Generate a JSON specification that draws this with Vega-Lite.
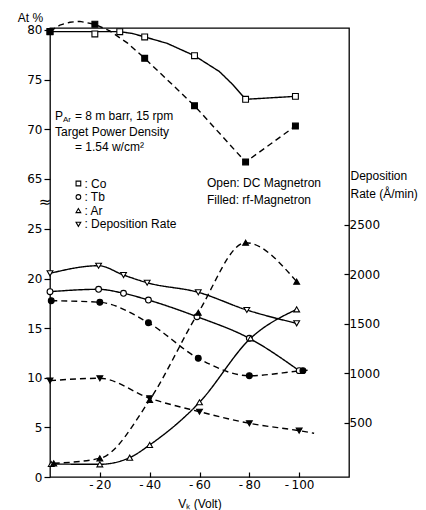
{
  "$schema": "https://vega.github.io/schema/vega-lite/v6.json",
  "width": 299,
  "height": 449,
  "autosize": {"type": "none"},
  "padding": {"left": 50, "top": 28, "right": 77, "bottom": 33},
  "background": "white",
  "config": {
    "view": {"stroke": "black", "strokeWidth": 1.3},
    "axis": {
      "domain": false, "grid": false,
      "labelFont": "DejaVu Sans", "labelFontSize": 12, "labelColor": "black",
      "tickColor": "black", "tickWidth": 1.2,
      "titleFont": "Liberation Sans", "titleFontSize": 12, "titleFontWeight": "normal", "titleColor": "black"
    },
    "text": {"font": "Liberation Sans", "fontSize": 12, "color": "black"}
  },
  "datasets": {
    "co": [
      {"s": "Co", "m": "DC", "x": 0, "y": 79.83, "k": "pl"},
      {"s": "Co", "m": "DC", "x": -18, "y": 79.6, "k": "p"},
      {"s": "Co", "m": "DC", "x": -28, "y": 79.83, "k": "pl"},
      {"s": "Co", "m": "DC", "x": -33, "y": 79.65, "k": "l"},
      {"s": "Co", "m": "DC", "x": -38, "y": 79.3, "k": "pl"},
      {"s": "Co", "m": "DC", "x": -47, "y": 78.65, "k": "l"},
      {"s": "Co", "m": "DC", "x": -58, "y": 77.4, "k": "pl"},
      {"s": "Co", "m": "DC", "x": -68, "y": 75.8, "k": "l"},
      {"s": "Co", "m": "DC", "x": -73.5, "y": 74.45, "k": "l"},
      {"s": "Co", "m": "DC", "x": -78.5, "y": 73.0, "k": "pl"},
      {"s": "Co", "m": "DC", "x": -98.5, "y": 73.3, "k": "pl"},
      {"s": "Co", "m": "rf", "x": 0, "y": 79.85, "k": "pl"},
      {"s": "Co", "m": "rf", "x": -4, "y": 80.5, "k": "l"},
      {"s": "Co", "m": "rf", "x": -8, "y": 80.78, "k": "l"},
      {"s": "Co", "m": "rf", "x": -12, "y": 80.87, "k": "l"},
      {"s": "Co", "m": "rf", "x": -18, "y": 80.58, "k": "pl"},
      {"s": "Co", "m": "rf", "x": -24, "y": 79.9, "k": "l"},
      {"s": "Co", "m": "rf", "x": -31, "y": 78.7, "k": "l"},
      {"s": "Co", "m": "rf", "x": -38, "y": 77.14, "k": "pl"},
      {"s": "Co", "m": "rf", "x": -58, "y": 72.35, "k": "pl"},
      {"s": "Co", "m": "rf", "x": -78.5, "y": 66.67, "k": "pl"},
      {"s": "Co", "m": "rf", "x": -98.5, "y": 70.3, "k": "pl"}
    ],
    "at": [
      {"s": "Tb", "m": "DC", "x": 0, "y": 18.68, "k": "pl"},
      {"s": "Tb", "m": "DC", "x": -19.5, "y": 18.92, "k": "pl"},
      {"s": "Tb", "m": "DC", "x": -29.5, "y": 18.52, "k": "pl"},
      {"s": "Tb", "m": "DC", "x": -39.5, "y": 17.84, "k": "pl"},
      {"s": "Tb", "m": "DC", "x": -59, "y": 16.16, "k": "pl"},
      {"s": "Tb", "m": "DC", "x": -80, "y": 13.98, "k": "pl"},
      {"s": "Tb", "m": "DC", "x": -100, "y": 10.72, "k": "pl"},
      {"s": "Tb", "m": "rf", "x": -0.5, "y": 17.77, "k": "pl"},
      {"s": "Tb", "m": "rf", "x": -20, "y": 17.61, "k": "pl"},
      {"s": "Tb", "m": "rf", "x": -39.5, "y": 15.55, "k": "pl"},
      {"s": "Tb", "m": "rf", "x": -59.5, "y": 11.97, "k": "pl"},
      {"s": "Tb", "m": "rf", "x": -80, "y": 10.21, "k": "pl"},
      {"s": "Tb", "m": "rf", "x": -101.5, "y": 10.72, "k": "pl"},
      {"s": "Tb", "m": "rf", "x": -104.5, "y": 10.78, "k": "l"},
      {"s": "Ar", "m": "DC", "x": -0.5, "y": 1.31, "k": "pl"},
      {"s": "Ar", "m": "DC", "x": -20, "y": 1.28, "k": "pl"},
      {"s": "Ar", "m": "DC", "x": -32, "y": 1.95, "k": "pl"},
      {"s": "Ar", "m": "DC", "x": -40, "y": 3.23, "k": "pl"},
      {"s": "Ar", "m": "DC", "x": -60, "y": 7.53, "k": "pl"},
      {"s": "Ar", "m": "DC", "x": -80.5, "y": 13.98, "k": "pl"},
      {"s": "Ar", "m": "DC", "x": -99, "y": 16.9, "k": "pl"},
      {"s": "Ar", "m": "rf", "x": -1.5, "y": 1.38, "k": "pl"},
      {"s": "Ar", "m": "rf", "x": -20, "y": 1.88, "k": "pl"},
      {"s": "Ar", "m": "rf", "x": -40, "y": 7.76, "k": "pl"},
      {"s": "Ar", "m": "rf", "x": -59.5, "y": 16.56, "k": "pl"},
      {"s": "Ar", "m": "rf", "x": -78.5, "y": 23.62, "k": "pl"},
      {"s": "Ar", "m": "rf", "x": -99, "y": 19.69, "k": "pl"}
    ],
    "rate": [
      {"s": "Rate", "m": "DC", "x": 0, "y": 2011, "k": "pl"},
      {"s": "Rate", "m": "DC", "x": -19.5, "y": 2088, "k": "pl"},
      {"s": "Rate", "m": "DC", "x": -29.5, "y": 1994, "k": "pl"},
      {"s": "Rate", "m": "DC", "x": -39, "y": 1916, "k": "pl"},
      {"s": "Rate", "m": "DC", "x": -59.5, "y": 1819, "k": "pl"},
      {"s": "Rate", "m": "DC", "x": -79, "y": 1640, "k": "pl"},
      {"s": "Rate", "m": "DC", "x": -99, "y": 1505, "k": "pl"},
      {"s": "Rate", "m": "rf", "x": 0, "y": 925, "k": "pl"},
      {"s": "Rate", "m": "rf", "x": -20, "y": 949, "k": "pl"},
      {"s": "Rate", "m": "rf", "x": -40, "y": 747, "k": "pl"},
      {"s": "Rate", "m": "rf", "x": -60, "y": 611, "k": "pl"},
      {"s": "Rate", "m": "rf", "x": -80, "y": 494, "k": "pl"},
      {"s": "Rate", "m": "rf", "x": -100, "y": 419, "k": "pl"},
      {"s": "Rate", "m": "rf", "x": -106, "y": 393, "k": "l"}
    ],
    "notes": [
      {"x": -2.0, "y": 71.32, "t": "P"},
      {"x": -10.0, "y": 71.32, "t": "= 8 m barr, 15 rpm"},
      {"x": -2.0, "y": 69.65, "t": "Target Power Density"},
      {"x": -10.0, "y": 68.14, "t": "= 1.54 w/cm²"},
      {"x": -63.0, "y": 64.55, "t": "Open: DC Magnetron"},
      {"x": -63.0, "y": 62.84, "t": "Filled: rf-Magnetron"}
    ],
    "subs": [
      {"x": -5.2, "y": 70.91, "t": "Ar"}
    ],
    "legend": [
      {"s": "Co", "x": -11.4, "y": 64.5, "t": ":   Co"},
      {"s": "Tb", "x": -11.4, "y": 63.14, "t": ":   Tb"},
      {"s": "Ar", "x": -11.4, "y": 61.77, "t": ":   Ar"},
      {"s": "Rate", "x": -11.4, "y": 60.38, "t": ":   Deposition Rate"}
    ],
    "brk": [
      {"x": 0, "y": 62.63, "t": "≈"}
    ]
  },
  "encoding": {
    "x": {
      "field": "x", "type": "quantitative",
      "scale": {"domain": [0, -120], "nice": false, "zero": false},
      "axis": {
        "values": [-20, -40, -60, -80, -100],
        "labelExpr": "'-\u2009' + abs(datum.value)",
        "tickSize": -5, "labelPadding": 7,
        "title": "Vₖ (Volt)", "titleY": 26, "titleBaseline": "middle"
      }
    }
  },
  "resolve": {"scale": {"y": "independent"}},
  "layer": [
    {
      "encoding": {
        "y": {
          "field": "y", "type": "quantitative",
          "scale": {"domain": [34.87, 80.2], "nice": false, "zero": false},
          "axis": {
            "orient": "left", "values": [65, 70, 75, 80], "tickSize": 6, "labelPadding": 2,
            "title": "At %", "titleAngle": 0, "titleAlign": "center", "titleBaseline": "middle",
            "titleX": -20, "titleY": -11
          }
        }
      },
      "layer": [
        {
          "data": {"name": "co"},
          "transform": [{"filter": "datum.k != 'p'"}],
          "mark": {"type": "line", "interpolate": "linear", "color": "black", "strokeWidth": 1.4},
          "encoding": {
            "strokeDash": {"field": "m", "type": "nominal", "scale": {"domain": ["DC", "rf"], "range": [[1, 0], [6, 4]]}, "legend": null},
            "detail": {"field": "s"},
            "order": {"field": "x", "sort": "descending"}
          }
        },
        {
          "data": {"name": "co"},
          "transform": [{"filter": "datum.k != 'l'"}],
          "mark": {"type": "point", "filled": true, "stroke": "black", "strokeWidth": 1.1, "size": 34, "opacity": 1},
          "encoding": {
            "shape": {"field": "s", "type": "nominal", "scale": {"domain": ["Co", "Tb", "Ar", "Rate"], "range": ["square", "circle", "triangle-up", "triangle-down"]}, "legend": null},
            "fill": {"field": "m", "type": "nominal", "scale": {"domain": ["DC", "rf"], "range": ["white", "black"]}, "legend": null}
          }
        },
        {
          "data": {"name": "notes"},
          "mark": {"type": "text", "align": "left", "baseline": "middle"},
          "encoding": {"text": {"field": "t"}}
        },
        {
          "data": {"name": "subs"},
          "mark": {"type": "text", "align": "left", "baseline": "middle", "fontSize": 8},
          "encoding": {"text": {"field": "t"}}
        },
        {
          "data": {"name": "legend"},
          "mark": {"type": "point", "filled": true, "fill": "white", "stroke": "black", "strokeWidth": 1.1, "size": 22, "opacity": 1},
          "encoding": {"shape": {"field": "s", "type": "nominal", "legend": null}}
        },
        {
          "data": {"name": "legend"},
          "mark": {"type": "text", "align": "left", "baseline": "middle", "dx": 6},
          "encoding": {"text": {"field": "t"}}
        },
        {
          "data": {"name": "brk"},
          "mark": {"type": "text", "align": "center", "baseline": "middle", "fontSize": 15, "dx": -5, "font": "DejaVu Sans"},
          "encoding": {"text": {"field": "t"}}
        }
      ]
    },
    {
      "data": {"name": "at"},
      "encoding": {
        "y": {
          "field": "y", "type": "quantitative",
          "scale": {"domain": [0, 45.26], "nice": false, "zero": false},
          "axis": {"orient": "left", "values": [0, 5, 10, 15, 20, 25], "tickSize": 6, "labelPadding": 2, "title": null}
        }
      },
      "layer": [
        {
          "transform": [{"filter": "datum.k != 'p'"}],
          "mark": {"type": "line", "interpolate": "monotone", "color": "black", "strokeWidth": 1.4},
          "encoding": {
            "strokeDash": {"field": "m", "type": "nominal", "legend": null},
            "detail": {"field": "s"},
            "order": {"field": "x", "sort": "descending"}
          }
        },
        {
          "transform": [{"filter": "datum.k != 'l'"}],
          "mark": {"type": "point", "filled": true, "stroke": "black", "strokeWidth": 1.1, "size": 34, "opacity": 1},
          "encoding": {
            "shape": {"field": "s", "type": "nominal", "legend": null},
            "fill": {"field": "m", "type": "nominal", "legend": null}
          }
        }
      ]
    },
    {
      "data": {"name": "rate"},
      "encoding": {
        "y": {
          "field": "y", "type": "quantitative",
          "scale": {"domain": [-49.6, 4493], "nice": false, "zero": false},
          "axis": {
            "orient": "right", "values": [500, 1000, 1500, 2000, 2500], "format": "d",
            "tickSize": -5, "labelPadding": 5,
            "title": ["Deposition", "Rate (Å/min)"], "titleAngle": 0, "titleAlign": "left", "titleBaseline": "top",
            "titleX": 1, "titleY": 142.5, "titleLineHeight": 18
          }
        }
      },
      "layer": [
        {
          "transform": [{"filter": "datum.k != 'p'"}],
          "mark": {"type": "line", "interpolate": "monotone", "color": "black", "strokeWidth": 1.4},
          "encoding": {
            "strokeDash": {"field": "m", "type": "nominal", "legend": null},
            "detail": {"field": "s"},
            "order": {"field": "x", "sort": "descending"}
          }
        },
        {
          "transform": [{"filter": "datum.k != 'l'"}],
          "mark": {"type": "point", "filled": true, "stroke": "black", "strokeWidth": 1.1, "size": 34, "opacity": 1},
          "encoding": {
            "shape": {"field": "s", "type": "nominal", "legend": null},
            "fill": {"field": "m", "type": "nominal", "legend": null}
          }
        }
      ]
    }
  ]
}
